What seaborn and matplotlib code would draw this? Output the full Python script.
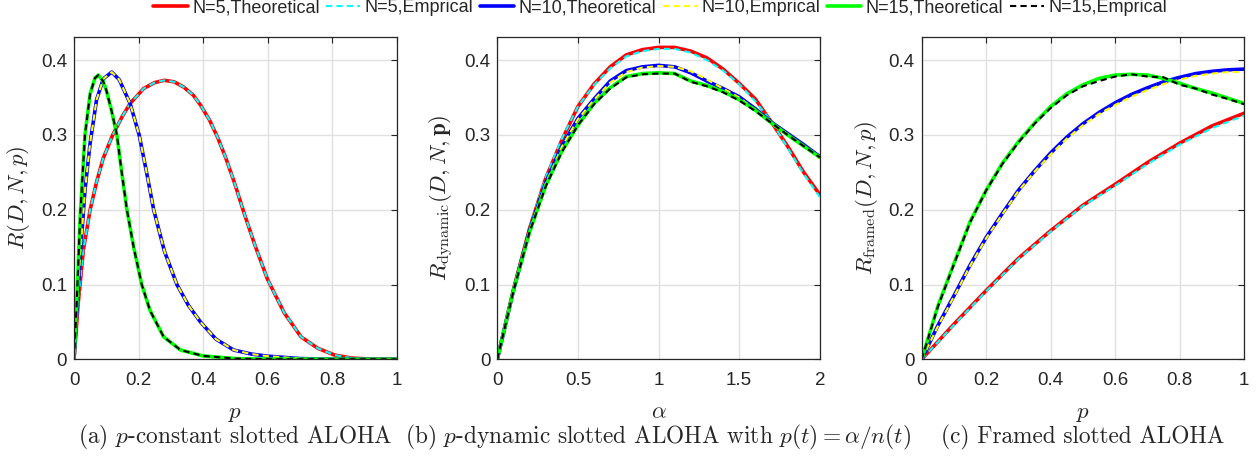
import numpy as np
import pandas as pd
import matplotlib
matplotlib.use("Agg")
import matplotlib.pyplot as plt
import seaborn as sns

# ---- panel (a): p-constant slotted ALOHA ----
p_a_n5 = [0, 0.013, 0.029, 0.05, 0.07, 0.09, 0.12, 0.15, 0.174, 0.216, 0.25, 0.28, 0.31,
          0.34, 0.37, 0.392, 0.42, 0.444, 0.47, 0.496, 0.527, 0.559, 0.60, 0.652, 0.704,
          0.756, 0.808, 0.86, 0.92, 1.0]
r_a_n5 = [0, 0.075, 0.146, 0.20, 0.237, 0.268, 0.30, 0.325, 0.342, 0.362, 0.370, 0.373, 0.371,
          0.364, 0.353, 0.340, 0.320, 0.298, 0.270, 0.238, 0.196, 0.155, 0.107, 0.062, 0.030,
          0.0147, 0.0057, 0.0017, 0.0003, 0]
p_a_n10 = [0, 0.01, 0.019, 0.034, 0.05, 0.07, 0.091, 0.117, 0.14, 0.174, 0.202, 0.225, 0.247,
           0.28, 0.319, 0.355, 0.392, 0.44, 0.495, 0.55, 0.6, 0.7, 0.8, 1.0]
r_a_n10 = [0, 0.075, 0.137, 0.226, 0.289, 0.347, 0.375, 0.384, 0.374, 0.342, 0.30, 0.25, 0.20,
           0.145, 0.10, 0.072, 0.050, 0.027, 0.0124, 0.007, 0.0042, 0.001, 0.0002, 0]
p_a_n15 = [0, 0.008, 0.019, 0.034, 0.05, 0.065, 0.0756, 0.09, 0.10, 0.115, 0.133, 0.148, 0.164,
           0.185, 0.21, 0.236, 0.278, 0.33, 0.40, 0.5, 0.6, 1.0]
r_a_n15 = [0, 0.07, 0.19, 0.30, 0.355, 0.376, 0.38, 0.372, 0.36, 0.335, 0.30, 0.25, 0.20,
           0.15, 0.10, 0.065, 0.030, 0.0125, 0.0045, 0.001, 0.0002, 0]
# simulated curves sit on top of the theory in (a)
r_a_n5_emp = r_a_n5
r_a_n10_emp = r_a_n10
r_a_n15_emp = r_a_n15

# ---- panel (b): p-dynamic slotted ALOHA ----
alpha_b = [0, 0.1, 0.2, 0.3, 0.4, 0.5, 0.6, 0.7, 0.8, 0.9, 1.0, 1.1, 1.2, 1.3, 1.4, 1.5,
           1.6, 1.7, 1.8, 1.9, 2.0]
r_b_n5 = [0, 0.093, 0.175, 0.242, 0.293, 0.338, 0.368, 0.391, 0.407, 0.414, 0.417, 0.417,
          0.412, 0.403, 0.388, 0.369, 0.348, 0.317, 0.285, 0.250, 0.220]
r_b_n5_emp = [0, 0.093, 0.176, 0.243, 0.295, 0.338, 0.367, 0.389, 0.405, 0.412, 0.415, 0.415,
              0.410, 0.400, 0.386, 0.368, 0.345, 0.318, 0.283, 0.248, 0.217]
r_b_n10 = [0, 0.092, 0.172, 0.236, 0.285, 0.322, 0.348, 0.372, 0.386, 0.391, 0.393, 0.391,
           0.383, 0.372, 0.362, 0.351, 0.335, 0.317, 0.302, 0.287, 0.271]
r_b_n10_emp = [0, 0.092, 0.171, 0.235, 0.284, 0.321, 0.347, 0.370, 0.384, 0.390, 0.392, 0.391,
               0.385, 0.374, 0.362, 0.350, 0.334, 0.316, 0.301, 0.285, 0.268]
r_b_n15 = [0, 0.092, 0.170, 0.232, 0.278, 0.313, 0.342, 0.363, 0.378, 0.382, 0.383, 0.382,
           0.372, 0.366, 0.358, 0.347, 0.333, 0.316, 0.300, 0.285, 0.270]
r_b_n15_emp = [0, 0.091, 0.170, 0.231, 0.277, 0.313, 0.341, 0.362, 0.377, 0.381, 0.382, 0.382,
               0.371, 0.365, 0.357, 0.346, 0.332, 0.316, 0.300, 0.285, 0.270]

# ---- panel (c): framed slotted ALOHA ----
p_c = [0, 0.05, 0.1, 0.15, 0.2, 0.25, 0.3, 0.35, 0.4, 0.45, 0.5, 0.55, 0.6, 0.65, 0.7, 0.75,
       0.8, 0.85, 0.9, 0.95, 1.0]
p_c_n5 = [0, 0.1, 0.2, 0.3, 0.4, 0.5, 0.6, 0.7, 0.8, 0.9, 1.0]
r_c_n5 = [0, 0.047, 0.092, 0.135, 0.172, 0.206, 0.234, 0.263, 0.289, 0.312, 0.329]
r_c_n5_emp = [0, 0.046, 0.091, 0.134, 0.171, 0.205, 0.232, 0.261, 0.287, 0.309, 0.326]
r_c_n10 = [0, 0.045, 0.085, 0.126, 0.163, 0.195, 0.226, 0.252, 0.276, 0.297, 0.315, 0.330,
           0.343, 0.354, 0.363, 0.371, 0.377, 0.382, 0.385, 0.387, 0.388]
r_c_n10_emp = [0, 0.044, 0.084, 0.125, 0.162, 0.194, 0.225, 0.251, 0.274, 0.295, 0.313, 0.328,
               0.340, 0.351, 0.360, 0.368, 0.374, 0.379, 0.382, 0.384, 0.384]
r_c_n15 = [0, 0.071, 0.128, 0.184, 0.226, 0.262, 0.291, 0.316, 0.338, 0.355, 0.367, 0.3755,
           0.380, 0.381, 0.380, 0.3755, 0.369, 0.362, 0.356, 0.349, 0.342]
r_c_n15_emp = [0, 0.070, 0.127, 0.183, 0.226, 0.261, 0.290, 0.315, 0.336, 0.353, 0.365, 0.372,
               0.378, 0.381, 0.378, 0.377, 0.367, 0.362, 0.354, 0.348, 0.341]

labels = ['N=5,Theoretical', 'N=5,Emprical', 'N=10,Theoretical', 'N=10,Emprical',
          'N=15,Theoretical', 'N=15,Emprical']
colors = ['#ff0000', '#00ffff', '#0000ff', '#ffff00', '#00ff00', '#000000']

x_ticks = [[0, 0.2, 0.4, 0.6, 0.8, 1], [0, 0.5, 1, 1.5, 2], [0, 0.2, 0.4, 0.6, 0.8, 1]]
x_ticklabels = [['0', '0.2', '0.4', '0.6', '0.8', '1'], ['0', '0.5', '1', '1.5', '2'],
                ['0', '0.2', '0.4', '0.6', '0.8', '1']]
y_ticks = [0, 0.1, 0.2, 0.3, 0.4]
y_ticklabels = ['0', '0.1', '0.2', '0.3', '0.4']
x_labels = [r'$p$', r'$\alpha$', r'$p$']
y_labels = [r'$R(D,N,p)$', r'$R_{\mathrm{dynamic}}(D,N,\mathbf{p})$', r'$R_{\mathrm{framed}}(D,N,p)$']
captions = [r'(a) $p$-constant slotted ALOHA',
            r'(b) $p$-dynamic slotted ALOHA with $p(t) = \alpha/n(t)$',
            r'(c) Framed slotted ALOHA']

sns.set_theme(style='white')
plt.rcParams['font.family'] = ['Liberation Sans', 'DejaVu Sans']
plt.rcParams['mathtext.fontset'] = 'cm'

panels = [
    [(p_a_n5, r_a_n5), (p_a_n5, r_a_n5_emp), (p_a_n10, r_a_n10), (p_a_n10, r_a_n10_emp),
     (p_a_n15, r_a_n15), (p_a_n15, r_a_n15_emp)],
    [(alpha_b, r_b_n5), (alpha_b, r_b_n5_emp), (alpha_b, r_b_n10), (alpha_b, r_b_n10_emp),
     (alpha_b, r_b_n15), (alpha_b, r_b_n15_emp)],
    [(p_c_n5, r_c_n5), (p_c_n5, r_c_n5_emp), (p_c, r_c_n10), (p_c, r_c_n10_emp),
     (p_c, r_c_n15), (p_c, r_c_n15_emp)],
]
xlims = [(0, 1), (0, 2), (0, 1)]
lefts = [74 / 1260, 497.3 / 1260, 921.7 / 1260]

fig = plt.figure(figsize=(12.6, 4.57), dpi=100)
axes = []
for i in range(3):
    ax = fig.add_axes([lefts[i], 97.7 / 457, 322.5 / 1260, 322.6 / 457])
    axes.append(ax)
    for k, (xs, ys) in enumerate(panels[i]):
        df = pd.DataFrame({'x': xs, 'y': ys})
        if k % 2 == 0:
            sns.lineplot(data=df, x='x', y='y', ax=ax, color=colors[k], lw=2.6,
                         label=labels[k], legend=False, sort=False)
        else:
            sns.lineplot(data=df, x='x', y='y', ax=ax, color=colors[k], lw=1.5,
                         linestyle=(0, (3, 2)), label=labels[k], legend=False, sort=False)
    ax.set_xlim(*xlims[i])
    ax.set_ylim(0, 0.4313)
    ax.set_xticks(x_ticks[i])
    ax.set_xticklabels(x_ticklabels[i])
    ax.set_yticks(y_ticks)
    ax.set_yticklabels(y_ticklabels)
    ax.grid(True, color='#e0e0e0', lw=1.0)
    ax.set_axisbelow(True)
    for s in ax.spines.values():
        s.set_color('#262626')
        s.set_linewidth(0.9)
    ax.tick_params(direction='in', length=4, width=0.8, top=True, right=True,
                   labelsize=13.5, colors='#262626')
    ax.tick_params(axis='x', pad=9.5)
    ax.tick_params(axis='y', pad=5)
    ax.set_xlabel(x_labels[i], fontsize=16.5, labelpad=8)
    ax.set_ylabel(y_labels[i], fontsize=16.5, labelpad=6)
    fig.text(lefts[i] + 161 / 1260, 0.042, captions[i], ha='center', va='center',
             fontsize=16.8, family='cmr10')

handles, labs = axes[0].get_legend_handles_labels()
fig.legend(handles, labs, loc='center', bbox_to_anchor=(0.524, 0.983), ncol=6,
           frameon=False, fontsize=13, handlelength=1.9, handletextpad=0.25,
           columnspacing=0.35, borderaxespad=0)

fig.savefig('out.png', dpi=100)
